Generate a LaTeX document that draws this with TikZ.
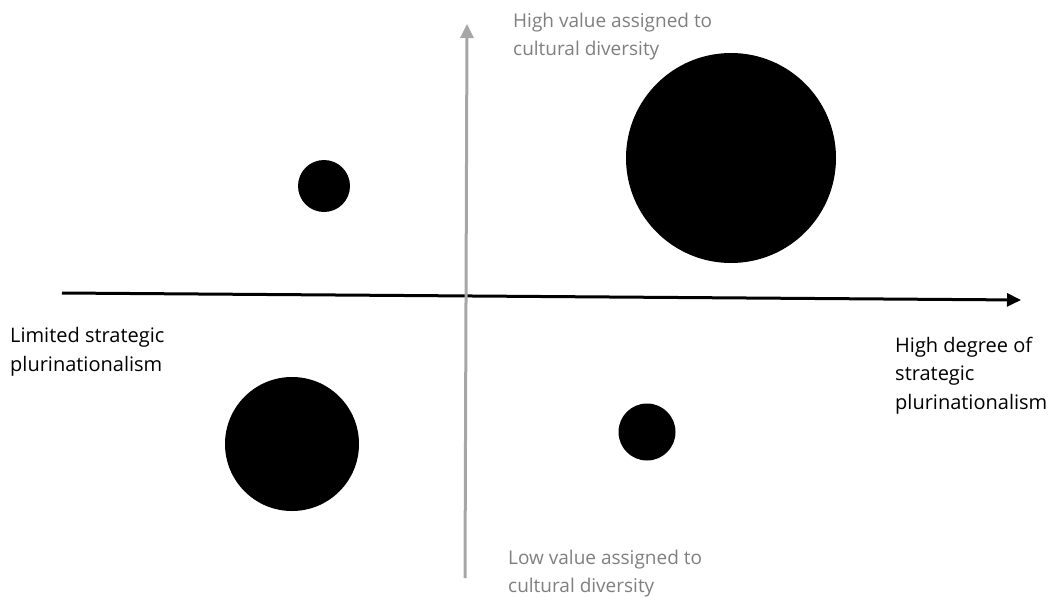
\documentclass[tikz,border=0pt]{standalone}
\usepackage{fontspec}
\setmainfont{Open Sans}
\usetikzlibrary{arrows.meta}
\definecolor{axisgray}{HTML}{A6A6A6}
\definecolor{labelgray}{HTML}{7F7F7F}
\tikzset{
  dot/.style={circle,fill=black,inner sep=0pt,minimum size=#1},
  lbl/.style={anchor=base west,align=left,inner sep=0pt,font=\fontsize{20}{28.5}\selectfont},
  glbl/.style={anchor=base west,align=left,inner sep=0pt,text=labelgray,font=\fontsize{19}{27.5}\selectfont},
  haxis/.style={line width=3pt,-{Triangle[length=14pt,width=13pt]}},
  vaxis/.style={line width=3pt,draw=axisgray,-{Triangle[length=14pt,width=13pt]}}
}
\begin{document}
\begin{tikzpicture}[x=1pt,y=-1pt]
\useasboundingbox (0,0) rectangle (1057,597);
\coordinate (hs) at (62,293);
\coordinate (he) at (1021,300);
\coordinate (vs) at (465,578);
\coordinate (ve) at (467,24);
\draw[haxis] (hs) -- (he);
\draw[vaxis] (vs) -- (ve);
\node[dot=52pt] (c1) at (324,186) {};
\node[dot=210pt] (c2) at (731,158) {};
\node[dot=134pt] (c3) at (292,444) {};
\node[dot=57pt] (c4) at (647,432) {};
\node[glbl] (t1) at (513,55) {High value assigned to\\cultural diversity};
\node[glbl] (t2) at (508,592) {Low value assigned to\\cultural diversity};
\node[lbl] (t3) at (10,371) {Limited strategic\\plurinationalism};
\node[lbl] (t4) at (895,409) {High degree of\\strategic\\plurinationalism};
\end{tikzpicture}
\end{document}
